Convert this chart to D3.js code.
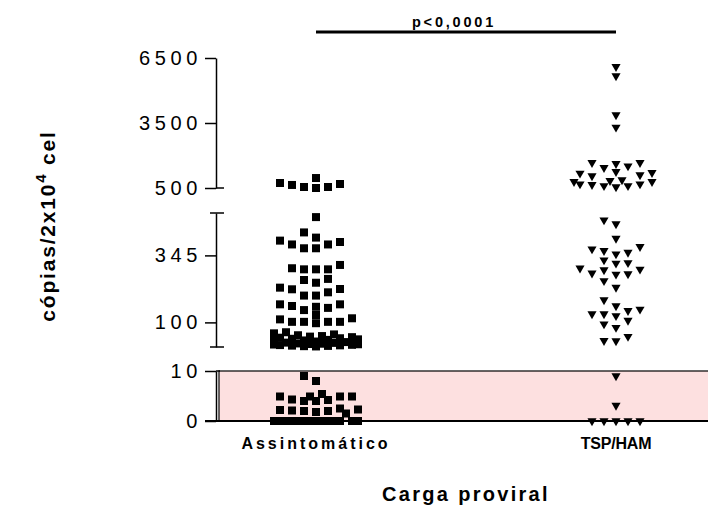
<!DOCTYPE html>
<html>
<head>
<meta charset="utf-8">
<script src="https://cdn.jsdelivr.net/npm/d3@7"></script>
<style>
  body { margin: 0; background: #fff; }
  text { font-family: "Liberation Sans", Arial, sans-serif; fill: #000; }
</style>
</head>
<body>
<svg id="chart" width="708" height="531"></svg>
<script>
// ---- data (copies / 2x10^4 cells) ----
const groups = ["Assintomático", "TSP/HAM"];

const asymValues = [
    960, 730, 685, 640, 546, 546, 500,
    485, 429, 410, 399, 394, 385, 385, 371, 371,
    310, 298, 294, 294, 294, 259, 255, 245,
    227, 222, 221, 210, 198, 198,
    166, 166, 160, 157, 153, 145,
    127, 115, 111, 102, 102, 102, 102, 97,
    64, 60, 56, 53, 50, 48, 46, 44, 42, 40, 38, 36, 34, 32, 30,
    28, 26, 25, 23, 22, 21, 20, 19, 18, 17, 16, 15, 14, 13, 12,
    9, 8, 5.4, 4.9, 4.9, 4.9, 4.9, 4.3, 4.2, 4.0, 4.0,
    2.5, 2.3, 2.2, 2.1, 2.0, 2.0, 1.8, 1.5,
    0, 0, 0, 0, 0, 0, 0, 0, 0, 0, 0, 0, 0, 0
];

const tspValues = [
    6100, 5670, 3870, 3300,
    1670, 1670, 1620, 1515, 1440, 1250, 1205, 1180, 1100, 1055,
    870, 840, 790, 790, 680, 680, 650, 600, 600, 550,
    474, 460, 407, 377, 368, 362, 356, 350,
    328, 318, 316, 298, 294, 292, 280, 277, 276, 252, 228, 182,
    160, 148, 143, 131, 131, 124, 107, 94, 81, 48, 33, 32,
    9, 3.1, 0, 0, 0, 0, 0
];

// broken y axis: three segments
const lowDomain = [0, 10];
const midDomain = [10, 500];
const highDomain = [500, 6500];
const lowTicks = [0, 10];
const midTicks = [100, 345];
const highTicks = [500, 3500, 6500];

const pLabel = "p<0,0001";
const xTitle = "Carga proviral";

// ---- layout ----
const svg = d3.select("#chart");
const axisX = 216;

const yLow = d3.scaleLinear().domain(lowDomain).range([421, 371]);
const yMid = d3.scaleLinear().domain(midDomain).range([347, 213]);
const yHigh = d3.scaleLinear().domain(highDomain).range([188, 58]);

function y(v) {
    if (v < lowDomain[1]) return yLow(v);
    if (v < highDomain[0]) return yMid(v);
    return yHigh(v);
}

const x = d3.scalePoint()
    .domain(groups)
    .range([axisX, axisX + 500])
    .padding(1 / 3);

// simple column-scatter layout: spread points sideways in slots of 12px
function swarm(values, cx, size) {
    const step = 12;
    const slots = [0, -1, 1, -2, 2, -3, 3, -3.5, 3.5, -0.5, 0.5, -1.5, 1.5, -2.5, 2.5];
    const placed = [];
    return values.slice().sort((a, b) => a - b).map(v => {
        const py = y(v);
        let best = 0, bestScore = Infinity;
        for (const s of slots) {
            const px = cx + s * step;
            let score = 0;
            placed.forEach(p => {
                const dx = Math.abs(p.x - px), dy = Math.abs(p.y - py);
                if (dx < size && dy < size) score += (size - dx) * (size - dy);
            });
            if (score < bestScore) { bestScore = score; best = s; }
            if (score === 0) break;
        }
        const pt = { v: v, x: cx + best * step, y: py };
        placed.push(pt);
        return pt;
    });
}

// pink band for the 0-10 segment
svg.append("rect")
    .attr("x", axisX + 3)
    .attr("y", yLow(10))
    .attr("width", 708)
    .attr("height", yLow(0) - yLow(10))
    .attr("fill", "#fde0e0")
    .attr("stroke", "#000")
    .attr("stroke-width", 1.2);

// axes
function drawSegment(scale, ticks) {
    const g = svg.append("g")
        .attr("transform", `translate(${axisX},0)`)
        .call(d3.axisLeft(scale)
            .tickValues(ticks)
            .tickFormat(d3.format("d"))
            .tickSize(11)
            .tickSizeOuter(0)
            .tickPadding(3));
    g.select(".domain").attr("stroke", "#000").attr("stroke-width", 1.5);
    g.selectAll(".tick line").attr("stroke", "#000").attr("stroke-width", 1.5);
    g.selectAll(".tick text")
        .style("font-size", "20px")
        .style("letter-spacing", "4.6px")
        .style("font-family", "'Liberation Sans', Arial, sans-serif");
    return g;
}

drawSegment(yHigh, highTicks);
drawSegment(yMid, midTicks);
drawSegment(yLow, lowTicks);

// end caps of the segments
function cap(yy, x1, x2) {
    svg.append("line")
        .attr("x1", axisX + x1).attr("x2", axisX + x2)
        .attr("y1", yy).attr("y2", yy)
        .attr("stroke", "#000").attr("stroke-width", 1.5);
}
cap(yHigh(500), 0, 8);
cap(yMid(500), -6, 8);
cap(yMid(10), -6, 8);
cap(yLow(10), 0, 4);

// x axis line
svg.append("line")
    .attr("x1", axisX - 11).attr("x2", 708)
    .attr("y1", yLow(0)).attr("y2", yLow(0))
    .attr("stroke", "#000").attr("stroke-width", 2);

// markers
const squares = swarm(asymValues, x(groups[0]), 8);
svg.append("g").selectAll("path")
    .data(squares)
    .join("path")
    .attr("d", d3.symbol(d3.symbolSquare, 64))
    .attr("transform", d => `translate(${d.x},${d.y})`)
    .attr("fill", "#000");

const triangles = swarm(tspValues, x(groups[1]), 8);
svg.append("g").selectAll("path")
    .data(triangles)
    .join("path")
    .attr("d", d3.symbol(d3.symbolTriangle, 36))
    .attr("transform", d => `translate(${d.x},${d.y}) rotate(180)`)
    .attr("fill", "#000");

// category labels
svg.append("g").selectAll("text")
    .data(groups)
    .join("text")
    .attr("x", d => x(d))
    .attr("y", 449)
    .attr("text-anchor", "middle")
    .style("font-size", "16px")
    .style("font-weight", "bold")
    .style("letter-spacing", (d, i) => i === 0 ? "3px" : "-0.2px")
    .text(d => d);

// x title
svg.append("text")
    .attr("x", 466)
    .attr("y", 501)
    .attr("text-anchor", "middle")
    .style("font-size", "20px")
    .style("font-weight", "bold")
    .style("letter-spacing", "2.3px")
    .text(xTitle);

// y title
const yt = svg.append("text")
    .attr("transform", "translate(55,226) rotate(-90)")
    .attr("text-anchor", "middle")
    .style("font-size", "21px")
    .style("font-weight", "bold")
    .style("letter-spacing", "1.8px");
yt.append("tspan").text("cópias/2x10");
yt.append("tspan").attr("dy", -9).style("font-size", "15px").text("4");
yt.append("tspan").attr("dy", 9).text("\u00a0cel");

// significance bar
const x0 = x(groups[0]), x1 = x(groups[1]);
svg.append("line")
    .attr("x1", x0).attr("x2", x1)
    .attr("y1", 32).attr("y2", 32)
    .attr("stroke", "#000").attr("stroke-width", 3);
svg.append("text")
    .attr("x", (x0 + x1) / 2 - 12)
    .attr("y", 27)
    .attr("text-anchor", "middle")
    .style("font-size", "14.5px")
    .style("font-weight", "bold")
    .style("letter-spacing", "2.8px")
    .text(pLabel);
</script>
</body>
</html>
